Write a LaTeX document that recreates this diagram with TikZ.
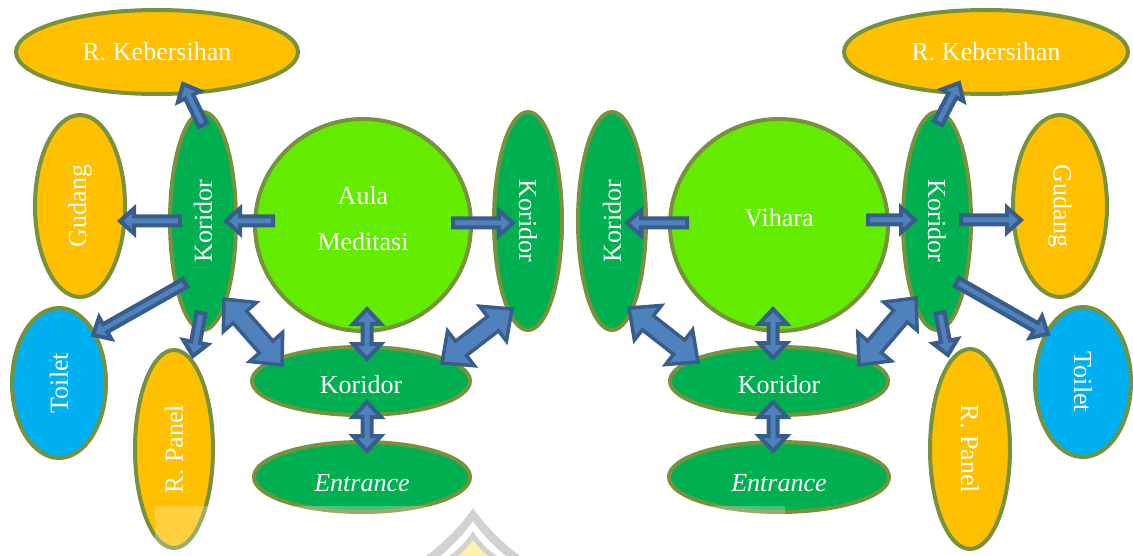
\documentclass[tikz,border=0pt]{standalone}
\usepackage{fontspec}
\setmainfont{Liberation Serif}
\usetikzlibrary{shapes.geometric,calc}

\definecolor{rim}{HTML}{76923C}
\definecolor{amberfill}{HTML}{FFC000}
\definecolor{hallgreen}{HTML}{00B050}
\definecolor{brightgreen}{HTML}{63EC00}
\definecolor{skyfill}{HTML}{00B0F0}
\definecolor{arrowfill}{HTML}{4F81BD}
\definecolor{arrowrim}{HTML}{385D8A}
\definecolor{emblemgray}{HTML}{D2D2D2}
\definecolor{emblemgold}{HTML}{FFF1A8}

\tikzset{
  room/.style={ellipse, draw=rim, line width=4pt, inner sep=0pt, outer sep=0pt},
  store/.style={room, fill=amberfill},
  hall/.style={room, fill=hallgreen},
  main/.style={room, fill=brightgreen},
  wc/.style={room, fill=skyfill},
  txt/.style={text=white, font=\fontsize{26}{30}\selectfont, inner sep=0pt},
  thinarrow/.style={fill=arrowfill, draw=arrowrim, line width=4pt},
  widearrow/.style={fill=arrowfill, draw=arrowrim, line width=3.5pt},
}

% single-headed block arrow: style, from, to, half shaft, half head, head length
\newcommand{\blockarrow}[6]{%
  \pgfpointdiff{\pgfpointanchor{#2}{center}}{\pgfpointanchor{#3}{center}}%
  \pgfgetlastxy{\dxa}{\dya}%
  \pgfmathsetmacro{\anga}{atan2(\dya,\dxa)}%
  \pgfmathsetmacro{\lena}{veclen(\dxa,\dya)}%
  \path[#1, shift={(#2)}, rotate=\anga]
    (0,-#4) -- ({\lena-#6},-#4) -- ({\lena-#6},-#5) -- (\lena,0)
    -- ({\lena-#6},#5) -- ({\lena-#6},#4) -- (0,#4) -- cycle;}

% double-headed block arrow: style, end a, end b, half shaft, half head, head length
\newcommand{\dblockarrow}[6]{%
  \pgfpointdiff{\pgfpointanchor{#2}{center}}{\pgfpointanchor{#3}{center}}%
  \pgfgetlastxy{\dxa}{\dya}%
  \pgfmathsetmacro{\anga}{atan2(\dya,\dxa)}%
  \pgfmathsetmacro{\lena}{veclen(\dxa,\dya)}%
  \path[#1, shift={(#2)}, rotate=\anga]
    (0,0) -- (#6,-#5) -- (#6,-#4) -- ({\lena-#6},-#4) -- ({\lena-#6},-#5)
    -- (\lena,0) -- ({\lena-#6},#5) -- ({\lena-#6},#4) -- (#6,#4) -- (#6,#5) -- cycle;}

\begin{document}
\begin{tikzpicture}[x=1pt,y=-1pt]
\useasboundingbox (0,0) rectangle (1133,556);

% ---------- left wing: Aula Meditasi ----------
\node[store, minimum width=282, minimum height=84,
      label={[txt]center:R. Kebersihan}] (rkL) at (157,52) {};
\node[store, minimum width=90, minimum height=182,
      label={[txt,rotate=90]center:Gudang}] (gdL) at (80,206) {};
\node[hall, minimum width=66, minimum height=218,
      label={[txt,rotate=90]center:Koridor}] (krL) at (203,221) {};
\node[main, minimum width=216, minimum height=212,
      label={[txt,align=center,yshift=6.5pt,font=\fontsize{26}{46}\selectfont]center:{Aula\\Meditasi}}] (aula) at (363,225) {};
\node[hall, minimum width=68, minimum height=218,
      label={[txt,rotate=-90]center:Koridor}] (krM1) at (528,221) {};
\node[wc, minimum width=94, minimum height=150,
      label={[txt,rotate=90]center:Toilet}] (tlL) at (59,383) {};
\node[store, minimum width=78, minimum height=198,
      label={[txt,rotate=90]center:R. Panel}] (rpL) at (174,449) {};
\node[hall, minimum width=218, minimum height=68,
      label={[txt,yshift=-4pt]center:Koridor}] (kbL) at (361,381) {};
\node[hall, minimum width=216, minimum height=70,
      label={[txt,yshift=-6pt]center:\textit{Entrance}}] (enL) at (362,477) {};

% ---------- right wing: Vihara ----------
\node[hall, minimum width=68, minimum height=218,
      label={[txt,rotate=90]center:Koridor}] (krM2) at (612,221) {};
\node[main, minimum width=218, minimum height=212,
      label={[txt,yshift=7pt]center:Vihara}] (vihara) at (779,225) {};
\node[hall, minimum width=68, minimum height=218,
      label={[txt,rotate=-90]center:Koridor}] (krR) at (937,221) {};
\node[store, minimum width=284, minimum height=84,
      label={[txt]center:R. Kebersihan}] (rkR) at (986,52) {};
\node[store, minimum width=94, minimum height=182,
      label={[txt,rotate=-90]center:Gudang}] (gdR) at (1060,206) {};
\node[wc, minimum width=96, minimum height=150,
      label={[txt,rotate=-90]center:Toilet}] (tlR) at (1083,382) {};
\node[store, minimum width=80, minimum height=200,
      label={[txt,rotate=-90]center:R. Panel}] (rpR) at (970,449) {};
\node[hall, minimum width=218, minimum height=68,
      label={[txt,yshift=-4pt]center:Koridor}] (kbR) at (779,381) {};
\node[hall, minimum width=220, minimum height=70,
      label={[txt,yshift=-6pt]center:\textit{Entrance}}] (enR) at (779,477) {};

% ---------- arrow end points ----------
\coordinate (krL-n)   at (203,125); \coordinate (rkL-s)  at (183,84);
\coordinate (krL-w)   at (180,221); \coordinate (gdL-e)  at (120,221);
\coordinate (aula-w)  at (273,221); \coordinate (krL-e)  at (226,221);
\coordinate (krL-sw)  at (185,283); \coordinate (tlL-ne) at (93,335);
\coordinate (krL-s)   at (201,313); \coordinate (rpL-n)  at (193,356);
\coordinate (aula-e)  at (453,223); \coordinate (krM1-w) at (513,223);
\coordinate (vihara-w) at (687,223); \coordinate (krM2-e) at (627,223);
\coordinate (vihara-e) at (868,220); \coordinate (krR-w)  at (915,220);
\coordinate (krR-e)   at (961,220); \coordinate (gdR-w)  at (1021,220);
\coordinate (krR-n)   at (938,123); \coordinate (rkR-s)  at (959,83);
\coordinate (krR-se)  at (957,282); \coordinate (tlR-nw) at (1048,334);
\coordinate (krR-s)   at (940,313); \coordinate (rpR-n)  at (948,355);

\coordinate (krL-se)  at (224,299); \coordinate (kbL-nw) at (282,365);
\coordinate (krM1-sw) at (512,309); \coordinate (kbL-ne) at (442,363);
\coordinate (krM2-se) at (629,308); \coordinate (kbR-nw) at (698,362);
\coordinate (krR-sw)  at (916,298); \coordinate (kbR-ne) at (859,365);
\coordinate (aula-s)  at (367,309); \coordinate (kbL-n)  at (367,359);
\coordinate (kbL-s)   at (367,402); \coordinate (enL-n)  at (367,451);
\coordinate (vihara-s) at (773,309); \coordinate (kbR-n) at (773,358);
\coordinate (kbR-s)   at (773,402); \coordinate (enR-n)  at (773,451);

% ---------- one-way arrows ----------
\blockarrow{thinarrow}{krL-n}{rkL-s}{4.5}{12.5}{14}
\blockarrow{thinarrow}{krL-w}{gdL-e}{4.5}{12.5}{14}
\blockarrow{thinarrow}{aula-w}{krL-e}{4.5}{12.5}{14}
\blockarrow{thinarrow}{krL-sw}{tlL-ne}{4.5}{12.5}{14}
\blockarrow{thinarrow}{krL-s}{rpL-n}{4.5}{12.5}{14}
\blockarrow{thinarrow}{aula-e}{krM1-w}{4.5}{12.5}{14}
\blockarrow{thinarrow}{vihara-w}{krM2-e}{4.5}{12.5}{14}
\blockarrow{thinarrow}{vihara-e}{krR-w}{4.5}{12.5}{14}
\blockarrow{thinarrow}{krR-e}{gdR-w}{4.5}{12.5}{14}
\blockarrow{thinarrow}{krR-n}{rkR-s}{4.5}{12.5}{14}
\blockarrow{thinarrow}{krR-se}{tlR-nw}{4.5}{12.5}{14}
\blockarrow{thinarrow}{krR-s}{rpR-n}{4.5}{12.5}{14}

% ---------- two-way arrows ----------
\dblockarrow{widearrow}{krL-se}{kbL-nw}{9}{22}{24}
\dblockarrow{widearrow}{krM1-sw}{kbL-ne}{9}{22}{24}
\dblockarrow{widearrow}{krM2-se}{kbR-nw}{9}{22}{24}
\dblockarrow{widearrow}{krR-sw}{kbR-ne}{9}{22}{24}
\dblockarrow{thinarrow}{aula-s}{kbL-n}{4.5}{14}{15}
\dblockarrow{thinarrow}{kbL-s}{enL-n}{4.5}{14}{15}
\dblockarrow{thinarrow}{vihara-s}{kbR-n}{4.5}{14}{15}
\dblockarrow{thinarrow}{kbR-s}{enR-n}{4.5}{14}{15}

% ---------- faint emblem along the lower edge ----------
\fill[white, opacity=0.25] (155,506) rectangle (785,556);
\fill[emblemgray]
  (473,508) .. controls (462,524) and (446,541) .. (426,556)
  -- (440,556) .. controls (455,544) and (466,531) .. (473,521)
  .. controls (480,531) and (491,544) .. (506,556)
  -- (520,556) .. controls (500,541) and (484,524) .. (473,508) -- cycle;
\fill[emblemgray]
  (473,531) .. controls (466,542) and (458,550) .. (449,556)
  -- (497,556) .. controls (488,550) and (480,542) .. (473,531) -- cycle;
\fill[emblemgold]
  (473,540) .. controls (468,547) and (463,552) .. (458,556)
  -- (488,556) .. controls (483,552) and (478,547) .. (473,540) -- cycle;
\end{tikzpicture}
\end{document}
